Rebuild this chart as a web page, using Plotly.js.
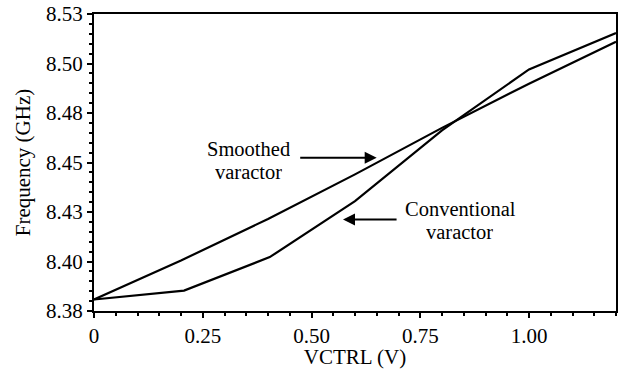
<!DOCTYPE html>
<html>
<head>
<meta charset="utf-8">
<script src="https://cdn.plot.ly/plotly-3.0.1.min.js"></script>
<style>html,body{margin:0;padding:0;background:#fff;}#chart{width:621px;height:369px;}</style>
</head>
<body>
<div id="chart"></div>
<script>
// Data
const vctrl = [0, 0.2, 0.4, 0.6, 0.8, 1.0, 1.2];
const smoothedFreq = [8.3858, 8.4055, 8.4265, 8.4490, 8.4725, 8.4948, 8.5160];
const conventionalX = [0, 0.207, 0.404, 0.6, 0.8, 1.0, 1.2];
const conventionalFreq = [8.3858, 8.3903, 8.4072, 8.4355, 8.4712, 8.5020, 8.5204];
const yTickVals = [8.38, 8.405, 8.43, 8.455, 8.48, 8.505, 8.53];
const yTickText = ["8.38", "8.40", "8.43", "8.45", "8.48", "8.50", "8.53"];
const xTickVals = [0, 0.25, 0.5, 0.75, 1.0];
const xTickText = ["0", "0.25", "0.50", "0.75", "1.00"];

const FONT = "Liberation Serif";

const traces = [
  {x: vctrl, y: smoothedFreq, mode: 'lines', line: {color: '#000', width: 2.2}, hoverinfo: 'skip', showlegend: false},
  {x: conventionalX, y: conventionalFreq, mode: 'lines', line: {color: '#000', width: 2.2}, hoverinfo: 'skip', showlegend: false}
];

const txt = (t, x, y) => ({text: t, x: x, y: y, xref: 'x', yref: 'y', showarrow: false, height: 20,
  xanchor: 'center', yanchor: 'middle', font: {family: FONT, size: 20.5, color: '#000'}});
const arr = (tx, ty, hx, hy) => ({text: '', x: hx, y: hy, ax: tx, ay: ty, xref: 'x', yref: 'y',
  axref: 'x', ayref: 'y', showarrow: true, arrowhead: 2, arrowsize: 1.2, arrowwidth: 2, arrowcolor: '#000', standoff: 0});

const layout = {
  width: 621, height: 369,
  margin: {l: 94, r: 5, t: 14, b: 58},
  paper_bgcolor: '#fff', plot_bgcolor: '#fff',
  font: {family: FONT, size: 21, color: '#000'},
  xaxis: {
    range: [0, 1.2], tickmode: 'array', tickvals: xTickVals, ticktext: xTickText,
    ticks: 'outside', ticklen: 5, tickwidth: 2, tickcolor: '#000',
    minor: {dtick: 0.05, tick0: 0, ticks: 'outside', ticklen: 3, tickwidth: 2, tickcolor: '#000', showgrid: false},
    showline: true, linecolor: '#000', linewidth: 2, mirror: true, showgrid: false, zeroline: false,
    tickfont: {family: FONT, size: 21, color: '#000'},
    title: {text: 'VCTRL (V)', font: {family: FONT, size: 21, color: '#000'}, standoff: 8}
  },
  yaxis: {
    range: [8.38, 8.53], tickmode: 'array', tickvals: yTickVals, ticktext: yTickText,
    ticks: 'outside', ticklen: 5, tickwidth: 2, tickcolor: '#000',
    minor: {dtick: 0.005, tick0: 8.38, ticks: 'outside', ticklen: 3, tickwidth: 2, tickcolor: '#000', showgrid: false},
    showline: true, linecolor: '#000', linewidth: 2, mirror: true, showgrid: false, zeroline: false,
    tickfont: {family: FONT, size: 21, color: '#000'},
    title: {text: 'Frequency (GHz)', font: {family: FONT, size: 21, color: '#000'}, standoff: 10}
  },
  annotations: [
    txt('Smoothed', 0.3556, 8.4620),
    txt('varactor', 0.3556, 8.4500),
    arr(0.4706, 8.4574, 0.6499, 8.4574),
    txt('Conventional', 0.843, 8.4317),
    txt('varactor', 0.841, 8.4197),
    arr(0.699, 8.4262, 0.5724, 8.4262)
  ]
};

Plotly.newPlot('chart', traces, layout, {staticPlot: true, displayModeBar: false});
</script>
</body>
</html>
